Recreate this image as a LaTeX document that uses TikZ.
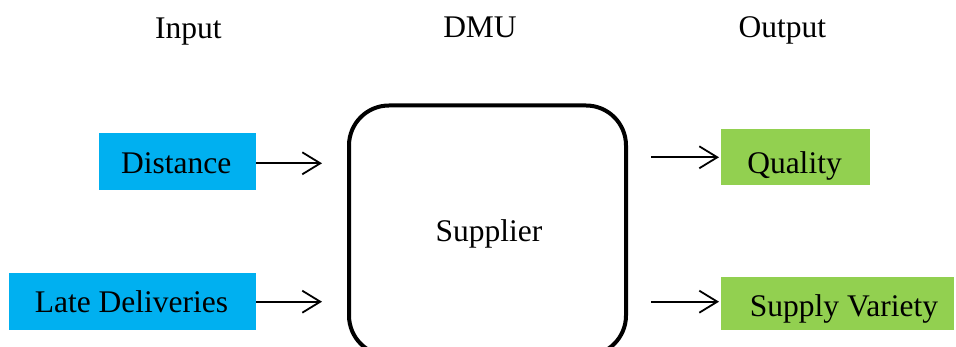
\documentclass[tikz,border=0pt]{standalone}
\usepackage{fontspec}
\setmainfont{Liberation Serif}
\newfontfamily\timesfont{Liberation Serif}
\usetikzlibrary{arrows.meta}
\definecolor{inblue}{HTML}{00B0F0}
\definecolor{outgreen}{HTML}{92D050}
\tikzset{
  caption/.style={inner sep=0pt, anchor=base, font=\timesfont\fontsize{31.5}{36}\selectfont},
  inbox/.style={rectangle, fill=inblue, draw=none, inner sep=0pt, anchor=north west},
  outbox/.style={rectangle, fill=outgreen, draw=none, inner sep=0pt, anchor=north west},
  dmubox/.style={rectangle, draw=black, line width=4pt, rounded corners=40pt, inner sep=0pt},
  flow/.style={line width=1.8pt, -{Straight Barb[length=18pt, width=22pt, line width=1.8pt]}}
}
\begin{document}
\begin{tikzpicture}[x=1pt, y=-1pt]
  \useasboundingbox (0,0) rectangle (956,347);
  \clip (0,0) rectangle (956,347);

  % column headings
  \node[caption] (hin)  at (188.3,38.3) {Input};
  \node[caption] (hdmu) at (480.0,38.0) {DMU};
  \node[caption] (hout) at (782.4,38.0) {Output};

  % input boxes
  \node[inbox, minimum width=157pt, minimum height=57pt] (dist) at (99,133) {};
  \node[caption] (distT) at (176.3,173.3) {Distance};
  \node[inbox, minimum width=247pt, minimum height=57pt] (late) at (9,273) {};
  \node[caption] (lateT) at (131.5,312.7) {Late Deliveries};

  % decision making unit
  \node[dmubox, minimum width=277pt, minimum height=250pt] (sup) at (487.5,230.5) {};
  \node[caption] (supT) at (488.9,241.7) {Supplier};

  % output boxes
  \node[outbox, minimum width=149pt, minimum height=56pt] (qual) at (721,129) {};
  \node[caption] (qualT) at (794.5,174) {Quality};
  \node[outbox, minimum width=233pt, minimum height=53pt] (var) at (721,277) {};
  \node[caption] (varT) at (844,316.7) {Supply Variety};

  % arrow ends
  \coordinate (distTip) at (322,163.3);
  \coordinate (lateTip) at (322,301.7);
  \coordinate (qualTail) at (651,157.3);
  \coordinate (varTail) at (651,301.7);

  \draw[flow] (distTip -| dist.east) -- (distTip);
  \draw[flow] (lateTip -| late.east) -- (lateTip);
  \draw[flow, shorten >=2pt] (qualTail) -- (qualTail -| qual.west);
  \draw[flow, shorten >=2pt] (varTail) -- (varTail -| var.west);
\end{tikzpicture}
\end{document}
